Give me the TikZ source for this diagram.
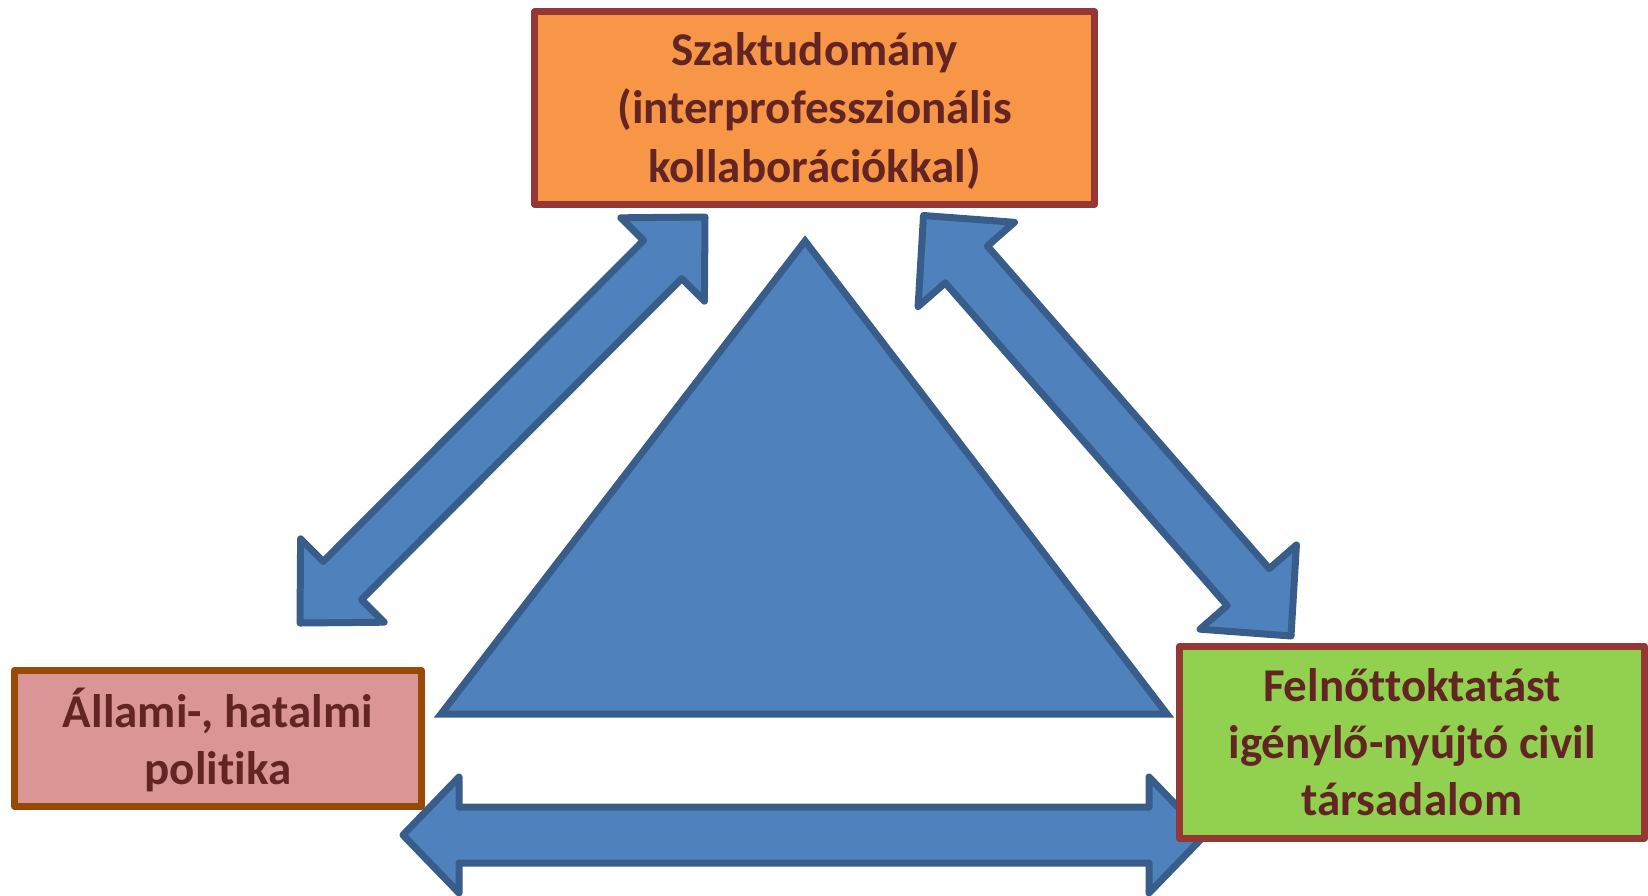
\documentclass[tikz,border=0pt]{standalone}
\usepackage{fontspec}
\setmainfont{Carlito}[Ligatures=CommonOff]
\usetikzlibrary{calc}
\definecolor{blueF}{HTML}{4F81BD}
\definecolor{blueD}{HTML}{385D8A}
\definecolor{orangeF}{HTML}{F79646}
\definecolor{redD}{HTML}{953735}
\definecolor{pinkF}{HTML}{D99694}
\definecolor{brownD}{HTML}{984807}
\definecolor{greenF}{HTML}{92D050}
\definecolor{txtC}{HTML}{632523}
\newcommand{\dblarr}[5]{%
 \draw[arrshape] (#1) -- ($(#1)!#3pt!(#2)!#4pt!90:(#2)$) -- ($(#1)!#3pt!(#2)!#5pt!90:(#2)$)
   -- ($(#2)!#3pt!(#1)!#5pt!-90:(#1)$) -- ($(#2)!#3pt!(#1)!#4pt!-90:(#1)$) -- (#2)
   -- ($(#2)!#3pt!(#1)!#4pt!90:(#1)$) -- ($(#2)!#3pt!(#1)!#5pt!90:(#1)$)
   -- ($(#1)!#3pt!(#2)!#5pt!-90:(#2)$) -- ($(#1)!#3pt!(#2)!#4pt!-90:(#2)$) -- cycle;}
\tikzset{
  arrshape/.style={fill=blueF, draw=blueD, line width=7pt, line join=round},
  tri/.style={fill=blueF, draw=blueD, line width=7pt, line join=miter},
  box/.style={draw, line width=7pt, line join=round, inner sep=0pt},
  lbl/.style={text=txtC, align=center, inner sep=0pt},
}
\begin{document}
\begin{tikzpicture}[x=1pt,y=-1pt]
\useasboundingbox (0,0) rectangle (1648,895);
\clip (0,0) rectangle (1648,895);
% arrow end points
\coordinate (la) at (300,623);
\coordinate (lb) at (705,217);
\coordinate (ra) at (923.5,215.5);
\coordinate (rb) at (1291,636);
\coordinate (ba) at (403,835);
\coordinate (bb) at (1205,835);
\dblarr{la}{lb}{60}{59}{27}
\dblarr{ra}{rb}{65}{64}{28}
\dblarr{ba}{bb}{56}{58}{28}
% central triangle
\draw[tri] (805,241) -- (1167,714) -- (441,714) -- cycle;
% boxes
\node[box, fill=orangeF, draw=redD, minimum width=559.5pt, minimum height=193pt] (sci) at (814.5,108) {};
\node[lbl, font=\bfseries\fontsize{47pt}{58.5pt}\selectfont] (scit) at ($(sci.center)+(0,3)$)
  {Szaktudomány\\(interprofesszionális\\kollaborációkkal)};
\node[box, fill=pinkF, draw=brownD, minimum width=407pt, minimum height=136pt] (pol) at (218,738.3) {};
\node[lbl, font=\bfseries\fontsize{47pt}{57pt}\selectfont] (polt) at ($(pol.center)+(0,2)$)
  {Állami-, hatalmi\\politika};
\node[box, fill=greenF, draw=redD, minimum width=465pt, minimum height=192pt] (civ) at (1412,742.2) {};
\node[lbl, font=\bfseries\fontsize{47pt}{57.3pt}\selectfont] (civt) at (civ.center)
  {Felnőttoktatást\\igénylő-nyújtó civil\\társadalom};
\end{tikzpicture}
\end{document}
